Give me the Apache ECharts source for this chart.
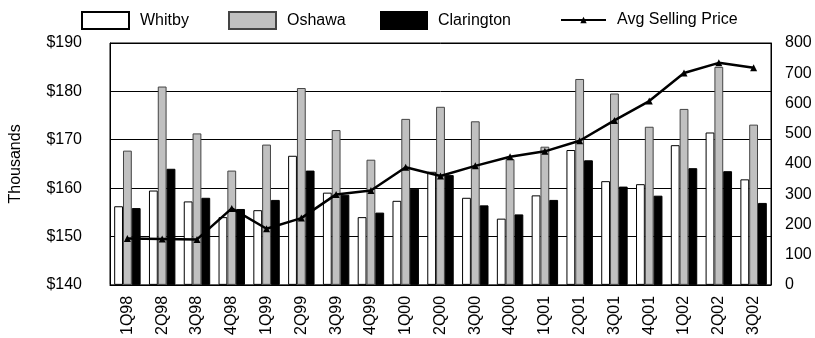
<!DOCTYPE html>
<html><head><meta charset="utf-8">
<script src="https://cdn.jsdelivr.net/npm/echarts@6/dist/echarts.min.js"></script>
<style>html,body{margin:0;padding:0;background:#fff}#c{width:815px;height:338px}</style>
</head><body><div id="c"></div>
<script>
const categories = ['1Q98','2Q98','3Q98','4Q98','1Q99','2Q99','3Q99','4Q99','1Q00','2Q00','3Q00','4Q00','1Q01','2Q01','3Q01','4Q01','1Q02','2Q02','3Q02'];
const whitby = [260,312,276,224,247,427,305,224,278,374,288,219,296,446,343,333,462,504,349];
const oshawa = [444,656,501,378,464,651,512,414,549,589,541,416,457,681,633,523,582,721,530];
const clarington = [254,384,288,251,281,378,298,239,318,363,263,233,281,412,325,295,386,376,271];
const avgPrice = [149.6,149.5,149.4,155.8,151.6,153.8,158.7,159.5,164.3,162.5,164.6,166.5,167.6,169.8,174.0,178.0,183.8,185.9,184.9];

const FONT = 'Liberation Sans, Arial, sans-serif';
const chart = echarts.init(document.getElementById('c'), null, {renderer:'canvas'});
function lg(name, left, w, h, top, icon){
  const o = {data:[{name:name, icon:icon}], left:left, top:top, itemWidth:w, itemHeight:h, padding:0,
    textStyle:{fontFamily:FONT, fontSize:16, color:'#000', padding:[0,0,0,6]}};
  return o;
}
chart.setOption({
  animation:false,
  textStyle:{fontFamily:FONT},
  legend:[
    lg('Whitby',81,47,17,11,'rect'),
    lg('Oshawa',228,47,17,11,'rect'),
    lg('Clarington',380,46,17,11,'rect'),
    lg('Avg Selling Price',560,45,8,12,undefined)
  ],
  grid:{left:110, right:44, top:43, bottom:51, show:true, borderColor:'#000', borderWidth:1, containLabel:false},
  xAxis:{type:'category', data:categories, boundaryGap:true,
    axisLine:{lineStyle:{color:'#000'}}, axisTick:{show:false},
    axisLabel:{rotate:90, margin:11, fontSize:16, color:'#000', fontFamily:FONT, interval:0}},
  yAxis:[
    {type:'value', min:140, max:190, interval:10, position:'left',
     name:'Thousands', nameLocation:'middle', nameGap:86,
     nameTextStyle:{fontSize:16, color:'#000', fontFamily:FONT},
     axisLine:{show:true, lineStyle:{color:'#000'}}, axisTick:{show:false},
     axisLabel:{formatter:v=>'$'+v, fontSize:16, color:'#000', margin:28, fontFamily:FONT},
     splitLine:{show:true, lineStyle:{color:'#000', width:1}}},
    {type:'value', min:0, max:800, interval:100, position:'right',
     axisLine:{show:true, lineStyle:{color:'#000'}}, axisTick:{show:false},
     axisLabel:{fontSize:16, color:'#000', margin:14, fontFamily:FONT},
     splitLine:{show:false}}
  ],
  series:[
    {name:'Whitby', type:'bar', yAxisIndex:1, data:whitby, barGap:'0%', barCategoryGap:'24%',
     itemStyle:{color:'#fff', borderColor:'#000', borderWidth:1}},
    {name:'Oshawa', type:'bar', yAxisIndex:1, data:oshawa, barGap:'0%', barCategoryGap:'24%',
     itemStyle:{color:'#c0c0c0', borderColor:'#444', borderWidth:1}},
    {name:'Clarington', type:'bar', yAxisIndex:1, data:clarington, barGap:'0%', barCategoryGap:'24%',
     itemStyle:{color:'#000', borderColor:'#000', borderWidth:1}},
    {name:'Avg Selling Price', type:'line', yAxisIndex:0, data:avgPrice, z:10,
     symbol:'triangle', symbolSize:7, showSymbol:true,
     lineStyle:{color:'#000', width:2.5}, itemStyle:{color:'#000'}}
  ]
});
</script></body></html>
